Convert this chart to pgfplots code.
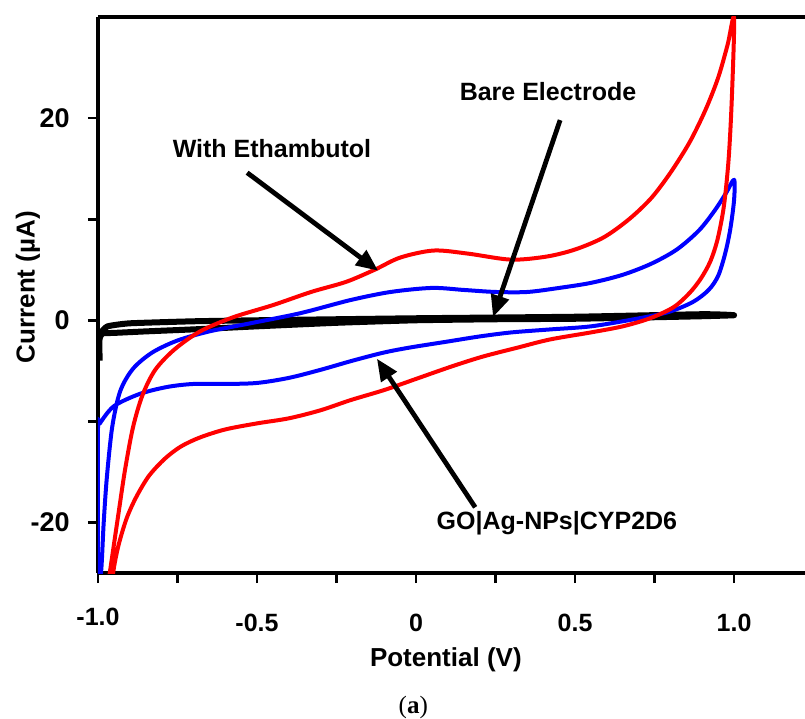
\documentclass[border=0pt]{standalone}
\usepackage{fontspec}
\setmainfont{Liberation Sans}
\newfontfamily\capfont{Liberation Serif}
\usepackage{pgfplots}
\pgfplotsset{compat=1.18}
\usetikzlibrary{arrows.meta}

\definecolor{cvred}{RGB}{255,0,0}
\definecolor{cvblue}{RGB}{0,0,255}

\begin{document}
\begin{tikzpicture}
\begin{axis}[
  scale only axis,
  width=353.5pt, height=278pt,
  xmin=-1, xmax=1.223, ymin=-25, ymax=30,
  axis x line=box, axis y line=left,
  axis line style={-, line width=1.6pt},
  xtick pos=bottom,
  tick align=outside,
  major tick length=5pt, minor tick length=5pt,
  every tick/.style={black, line width=1.4pt},
  xtick={-1,-0.5,0,0.5,1},
  xticklabels={\raisebox{3pt}{-1.0},-0.5,0,0.5,1.0},
  minor xtick={-0.75,-0.25,0.25,0.75},
  ytick={-20,0,20}, yticklabels={-20,0,20},
  minor ytick={-10,10},
  xticklabel style={font=\fontsize{12.5}{14}\selectfont\bfseries, anchor=base, yshift=-24pt, inner sep=0pt},
  yticklabel style={font=\fontsize{13.5}{15}\selectfont\bfseries, anchor=east, xshift=-9pt, inner sep=0pt},
  xlabel={Potential (V)},
  ylabel={Current (µA)},
  xlabel style={at={(axis description cs:0.492,-0.156)}, anchor=center, font=\fontsize{13}{15}\selectfont\bfseries},
  ylabel style={at={(axis description cs:-0.099,0.514)}, anchor=center, font=\fontsize{13}{15}\selectfont\bfseries},
  line join=round,
]

% bare electrode
\addplot[black, line width=3pt, smooth, tension=0.3] coordinates {
  (-0.995,-4.0) (-0.995,-1.8) (-0.985,-1.3) (-0.95,-1.25) (-0.85,-1.1)
  (-0.7,-0.9) (-0.5,-0.6) (-0.25,-0.25) (0,0.0) (0.25,0.1) (0.5,0.15)
  (0.75,0.3) (0.9,0.4) (1.0,0.5) (0.9,0.6) (0.5,0.35) (0,0.2)
  (-0.5,0.0) (-0.7,-0.1) (-0.9,-0.3) (-0.97,-0.6) (-0.99,-1.2)
};

% GO|Ag-NPs|CYP2D6
\addplot[cvblue, line width=2pt, smooth, tension=0.5] coordinates {
  (-1.0,-26) (-0.99,-24.8) (-0.982,-20) (-0.972,-15.5) (-0.955,-10.5)
  (-0.93,-7.0) (-0.89,-4.8) (-0.83,-3.2) (-0.75,-2.0) (-0.65,-1.1)
  (-0.521,-0.3) (-0.364,0.7) (-0.206,2.0) (-0.08,2.8) (0.05,3.2)
  (0.15,3.0) (0.25,2.8) (0.35,2.8) (0.45,3.2) (0.55,3.7)
  (0.65,4.5) (0.74,5.6) (0.82,7.0) (0.89,8.9) (0.94,10.9)
  (0.975,12.6) (1.0,13.9)
  (1.0,11.9) (0.988,9.0) (0.972,6.6) (0.950,4.4) (0.92,3.0)
  (0.87,1.8) (0.792,0.8) (0.685,0.1) (0.55,-0.6) (0.424,-0.9)
  (0.30,-1.2) (0.2,-1.6) (0.1,-2.1) (-0.02,-2.7) (-0.102,-3.2)
  (-0.2,-4.0) (-0.3,-4.9) (-0.4,-5.7) (-0.5,-6.2) (-0.6,-6.3)
  (-0.7,-6.3) (-0.783,-6.6) (-0.87,-7.3) (-0.95,-8.5) (-0.994,-10.2)
  (-1.0,-10.8) (-1.0,-26)
};

% with ethambutol
\addplot[cvred, line width=2pt, smooth, tension=0.5] coordinates {
  (-0.97,-26.5) (-0.956,-23.5) (-0.935,-19.0) (-0.915,-14.8) (-0.89,-10.6)
  (-0.86,-7.4) (-0.82,-4.9) (-0.76,-2.9) (-0.679,-1.1) (-0.575,0.3)
  (-0.45,1.5) (-0.33,2.8) (-0.22,3.8) (-0.13,5.0) (-0.05,6.2)
  (0.055,6.9) (0.162,6.6) (0.298,6.0) (0.41,6.3) (0.50,7.0)
  (0.59,8.2) (0.67,10.0) (0.74,12.1) (0.80,14.6) (0.86,17.6)
  (0.91,20.8) (0.95,24.0) (0.98,27.3) (1.0,29.9)
  (0.993,22) (0.983,16) (0.968,11.3) (0.948,8.0) (0.925,5.8)
  (0.895,4.1) (0.86,2.7) (0.81,1.3) (0.736,0.2) (0.65,-0.6)
  (0.55,-1.2) (0.421,-1.9) (0.320,-2.7) (0.209,-3.6) (0.109,-4.6)
  (0.0,-5.8) (-0.1,-6.9) (-0.206,-7.9) (-0.30,-8.9) (-0.40,-9.7)
  (-0.50,-10.2) (-0.60,-10.8) (-0.68,-11.6) (-0.74,-12.5) (-0.79,-13.7)
  (-0.84,-15.4) (-0.88,-17.5) (-0.91,-19.6) (-0.935,-22.2) (-0.95,-24.5)
  (-0.96,-27)
};

\tikzset{ann/.style={font=\fontsize{12.5}{14}\selectfont\bfseries},
  annarrow/.style={line width=2.4pt, -{Triangle[length=11pt,width=9pt]}}}
\node[ann] at (axis cs:-0.453,17.0) {With Ethambutol};
\draw[annarrow] (axis cs:-0.531,14.6) -- (axis cs:-0.119,4.9);
\node[ann] at (axis cs:0.415,22.6) {Bare Electrode};
\draw[annarrow] (axis cs:0.453,19.8) -- (axis cs:0.242,0.3);
\node[ann] at (axis cs:0.443,-20.1) {GO|Ag-NPs|CYP2D6};
\draw[annarrow] (axis cs:0.186,-18.5) -- (axis cs:-0.123,-3.8);

\coordinate (cap) at (axis description cs:0.446,-0.241);
\coordinate (bbsw) at (axis description cs:-0.1386,-0.2608);
\coordinate (bbne) at (axis description cs:1,1.0306);
\end{axis}
\node at (cap) {\fontsize{12.5}{14}\selectfont\capfont(\textbf{a})};
\pgfresetboundingbox
\path[use as bounding box] (bbsw) rectangle (bbne);
\end{tikzpicture}
\end{document}
